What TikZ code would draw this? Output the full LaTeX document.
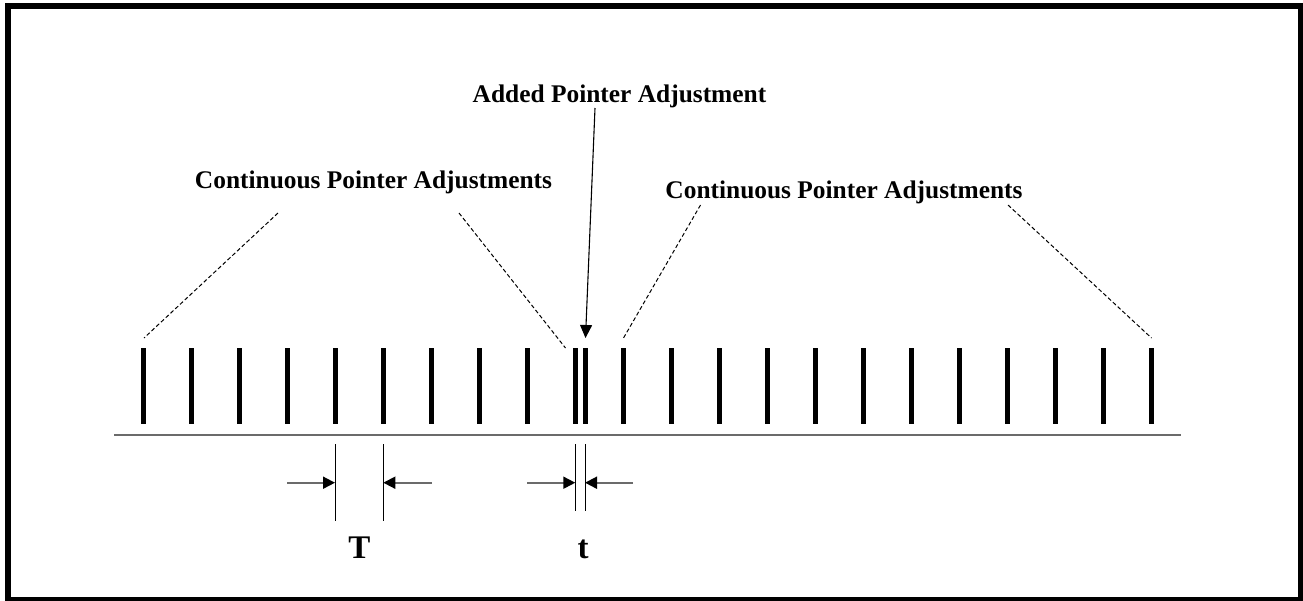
\documentclass[tikz,border=0pt]{standalone}
\usepackage{fontspec}
\setmainfont{Liberation Serif}
\usetikzlibrary{arrows.meta,calc}
\definecolor{rulegray}{gray}{0.42}
\tikzset{
  bar/.style    ={line width=5pt},
  lbl/.style    ={font=\fontsize{25.4}{28}\selectfont\bfseries, inner sep=0pt},
  dimlbl/.style ={font=\fontsize{33}{36}\selectfont\bfseries, inner sep=0pt},
  guide/.style  ={line width=1pt, dash pattern=on 4pt off 2.5pt},
  ext/.style    ={line width=1pt},
  dimarr/.style ={-{Triangle[length=12pt,width=12pt,color=black]}, line width=1.8pt, draw=rulegray},
  ptr/.style    ={-{Triangle[length=13pt,width=12pt]}, line width=1.1pt},
}
\begin{document}
\begin{tikzpicture}[x=1pt,y=-1pt]
  \useasboundingbox (0,0) rectangle (1303,600);
  % --- frame ---
  \draw[line width=6pt] (8,6) rectangle (1300.5,600);
  % --- labels ---
  \node[lbl,anchor=base](contL) at (373.5,188){Continuous Pointer Adjustments};
  \node[lbl,anchor=base](added) at (619.5,102){Added Pointer Adjustment};
  \node[lbl,anchor=base](contR) at (844,198){Continuous Pointer Adjustments};
  % --- pointer bars ---
  \foreach \i in {0,...,9}
     \coordinate (l\i) at ({143.5+48*\i},348);
  \coordinate (add) at (585.5,348);
  \foreach \i in {0,...,11}
     \coordinate (r\i) at ({623.5+48*\i},348);
  \foreach \p in {l0,l1,l2,l3,l4,l5,l6,l7,l8,l9,add,r0,r1,r2,r3,r4,r5,r6,r7,r8,r9,r10,r11}
     \draw[bar] (\p) -- ++(0,76);
  % time axis
  \coordinate (axA) at (114,435);
  \coordinate (axB) at (1181,435);
  \draw[line width=2.3pt,draw=rulegray] (axA) -- (axB);
  % --- guides from the labels ---
  \coordinate (gL1) at (278,213);
  \coordinate (gL2) at (459,213);
  \coordinate (gR1) at (700.5,205);
  \coordinate (gR2) at (1008,205);
  \draw[guide] (gL1) -- ($(l0)+(0.5,-10)$);
  \draw[guide] (gL2) -- ($(l9)+(-10,0)$);
  \draw[guide] (gR1) -- ($(r0)+(0,-10)$);
  \draw[guide] (gR2) -- ($(r11)+(0,-10)$);
  \coordinate (ptrS) at (595,108);
  \draw[ptr] (ptrS) -- ($(add)+(0,-10)$);
  % --- dimension T ---
  \coordinate (T1) at (335,444);
  \coordinate (T2) at (383.3,444);
  \draw[ext] (T1) -- ++(0,77);
  \draw[ext] (T2) -- ++(0,77);
  \draw[dimarr] ($(T1)+(-48,38.7)$) -- ($(T1)+(0,38.7)$);
  \draw[dimarr] ($(T2)+(48.7,38.7)$) -- ($(T2)+(0,38.7)$);
  \node[dimlbl,anchor=base](Tlbl) at (359.5,558){T};
  % --- dimension t ---
  \coordinate (t1) at (575.3,444);
  \coordinate (t2) at (585,444);
  \draw[ext] (t1) -- ++(0,67);
  \draw[ext] (t2) -- ++(0,67);
  \draw[dimarr] ($(t1)+(-48.3,38.7)$) -- ($(t1)+(0,38.7)$);
  \draw[dimarr] ($(t2)+(48,38.7)$) -- ($(t2)+(0,38.7)$);
  \node[dimlbl,anchor=base](tlbl) at (583,558){t};
\end{tikzpicture}
\end{document}
